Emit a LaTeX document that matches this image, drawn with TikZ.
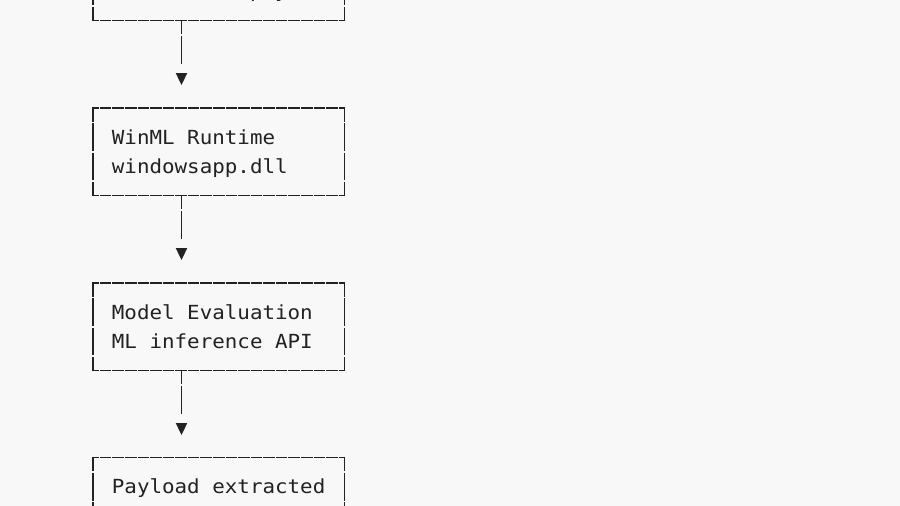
\documentclass[tikz,border=0pt]{standalone}
\usepackage{fontspec}
\newfontfamily\diagmono{DejaVu Sans Mono}
\definecolor{bg}{HTML}{F8F8F8}
\definecolor{ink}{HTML}{222222}
\newcommand{\mtxt}[1]{\scalebox{1.075}[1]{#1}}
\begin{document}
\begin{tikzpicture}[x=1pt,y=-1pt,
  box/.style={rectangle, draw=none, minimum width=251.5pt, minimum height=87.5pt, inner sep=0pt, outer sep=0pt},
  hside/.style={draw=ink, line width=1.3pt, dash pattern=on 11.575pt off 1pt, dash phase=5.1pt},
  vside/.style={draw=ink, line width=1.3pt, dash pattern=on 27.67pt off 1.5pt, dash phase=13.19pt},
  conn/.style={draw=ink, line width=1.3pt, dash pattern=on 27.67pt off 1.5pt, dash phase=13.84pt},
  txt/.style={anchor=base west, inner sep=0pt, outer sep=0pt, font=\diagmono\fontsize{19.4pt}{29pt}\selectfont, text=ink},
  tipfill/.style={fill=ink}]
\fill[bg] (0,0) rectangle (900,506);
\useasboundingbox (0,0) rectangle (900,506);
\clip (0,0) rectangle (900,506);

% boxes
\node[box] (b1) at (218.75,-23.25) {};
\node[box] (b2) at (218.75,151.75) {};
\node[box] (b3) at (218.75,326.75) {};
\node[box] (b4) at (218.75,501.25) {};

\foreach \b in {b1,b2,b3,b4}{
  \draw[hside] ([xshift=-0.65pt]\b.north west) -- ([xshift=0.65pt]\b.north east);
  \draw[hside] ([xshift=-0.65pt]\b.south west) -- ([xshift=0.65pt]\b.south east);
  \draw[vside] ([yshift=0.65pt]\b.north west) -- ([yshift=-0.65pt]\b.south west);
  \draw[vside] ([yshift=0.65pt]\b.north east) -- ([yshift=-0.65pt]\b.south east);
}

% texts
\node[txt] (l1b) at (111.9,-2) {\mtxt{model with payload}};
\node[txt] (l2a) at (111.9,144) {\mtxt{WinML Runtime}};
\node[txt] (l2b) at (111.9,173) {\mtxt{windowsapp.dll}};
\node[txt] (l3a) at (111.9,319) {\mtxt{Model Evaluation}};
\node[txt] (l3b) at (111.9,348) {\mtxt{ML inference API}};
\node[txt] (l4a) at (111.9,493) {\mtxt{Payload extracted}};

% connectors
\coordinate (e1) at (181.2,64.3);
\coordinate (e2) at (181.2,239.3);
\coordinate (e3) at (181.2,414.3);
\draw[conn] (b1.south -| e1) -- (e1);
\draw[conn] (b2.south -| e2) -- (e2);
\draw[conn] (b3.south -| e3) -- (e3);

% arrow heads
\coordinate (t1) at (181.5,79);
\coordinate (t2) at (181.5,254);
\coordinate (t3) at (181.5,429);
\foreach \t in {t1,t2,t3}{
  \fill[tipfill] ([shift={(-5.8,-6)}]\t) -- ([shift={(5.8,-6)}]\t) -- ([shift={(0,6)}]\t) -- cycle;
}
\end{tikzpicture}
\end{document}
